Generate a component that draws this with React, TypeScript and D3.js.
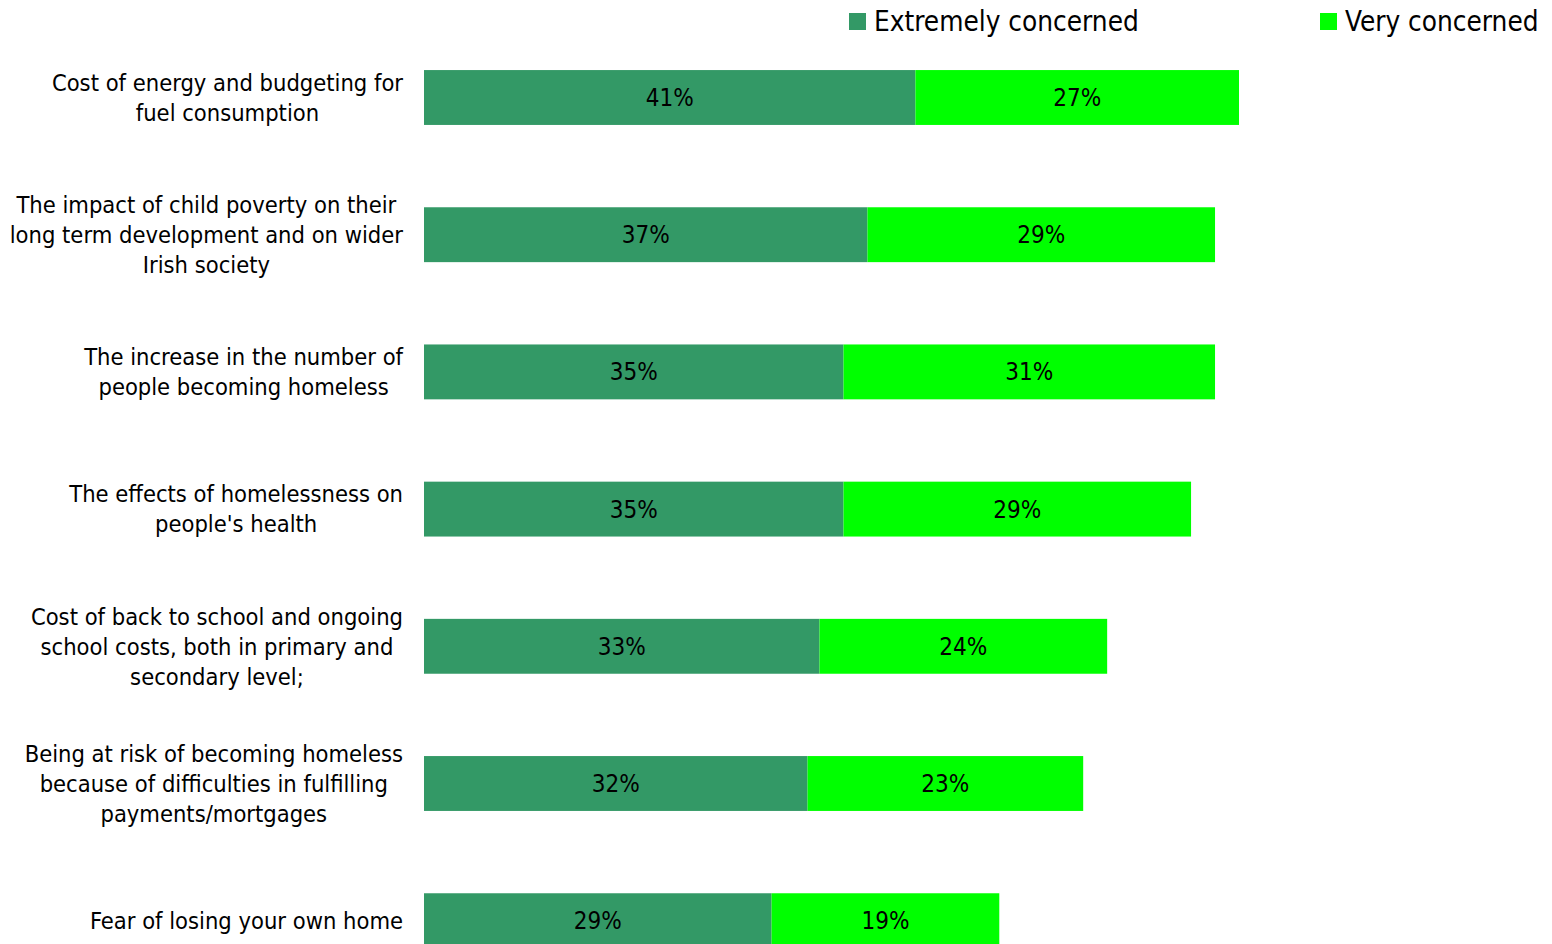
import React from "react";
import * as d3 from "d3";

const categories: string[][] = [
  ["Cost of energy and budgeting for", "fuel consumption"],
  ["The impact of child poverty on their", "long term development and on wider", "Irish society"],
  ["The increase in the number of", "people becoming homeless"],
  ["The effects of homelessness on", "people's health"],
  ["Cost of back to school and ongoing", "school costs, both in primary and", "secondary level;"],
  ["Being at risk of becoming homeless", "because of difficulties in fulfilling", "payments/mortgages"],
  ["Fear of losing your own home"],
];
const extremely = [41, 37, 35, 35, 33, 32, 29];
const very = [27, 29, 31, 29, 24, 23, 19];
const seriesNames = ["Extremely concerned", "Very concerned"];
const colors = ["#339966", "#00FF00"];

const FONT = "'DejaVu Sans Condensed', 'Noto Sans', sans-serif";
const LABEL_SIZE = 23.5;
const VALUE_SIZE = 24;
const LEGEND_SIZE = 27.7;

let ctx: CanvasRenderingContext2D | null = null;
function measure(t: string, size: number) {
  if (!ctx) ctx = document.createElement("canvas").getContext("2d");
  ctx!.font = `${size}px ${FONT}`;
  return ctx!.measureText(t).width;
}

export default function App() {
  const W = 1552, H = 944;
  const ids = categories.map((_, i) => String(i));
  const x = d3.scaleLinear().domain([0, 68]).range([424, 1239]);
  const step = 137.2;
  const y = d3
    .scaleBand<string>()
    .domain(ids)
    .range([28.9, 28.9 + step * ids.length])
    .paddingInner(0.6)
    .paddingOuter(0.3);
  const bw = y.bandwidth();
  const lineH = 30;
  const labelRight = 403;

  return (
    <svg width={W} height={H} style={{ position: "absolute", left: 0, top: 0, background: "#fff" }} fontFamily={FONT}>
      {seriesNames.map((s, i) => {
        const lx = i === 0 ? 849 : 1320;
        return (
          <g key={s}>
            <rect x={lx} y={13} width={17} height={17} fill={colors[i]} />
            <text x={lx + 25} y={21} dy="0.35em" fontSize={LEGEND_SIZE} fill="#000">
              {s}
            </text>
          </g>
        );
      })}
      {ids.map((id, i) => {
        const y0 = y(id)!;
        const cy = y0 + bw / 2;
        const lines = categories[i];
        const maxW = Math.max(...lines.map((l) => measure(l, LABEL_SIZE)));
        const cx = labelRight - maxW / 2;
        const startY = cy - ((lines.length - 1) * lineH) / 2;
        const e = extremely[i], v = very[i];
        return (
          <g key={id}>
            {lines.map((l, j) => (
              <text key={j} x={cx} y={startY + j * lineH} dy="0.35em" textAnchor="middle" fontSize={LABEL_SIZE} fill="#000">
                {l}
              </text>
            ))}
            <rect x={x(0)} y={y0} width={x(e) - x(0)} height={bw} fill={colors[0]} />
            <rect x={x(e)} y={y0} width={x(e + v) - x(e)} height={bw} fill={colors[1]} />
            <text x={(x(0) + x(e)) / 2} y={cy} dy="0.35em" textAnchor="middle" fontSize={VALUE_SIZE} fill="#000">
              {e}%
            </text>
            <text x={(x(e) + x(e + v)) / 2} y={cy} dy="0.35em" textAnchor="middle" fontSize={VALUE_SIZE} fill="#000">
              {v}%
            </text>
          </g>
        );
      })}
    </svg>
  );
}
